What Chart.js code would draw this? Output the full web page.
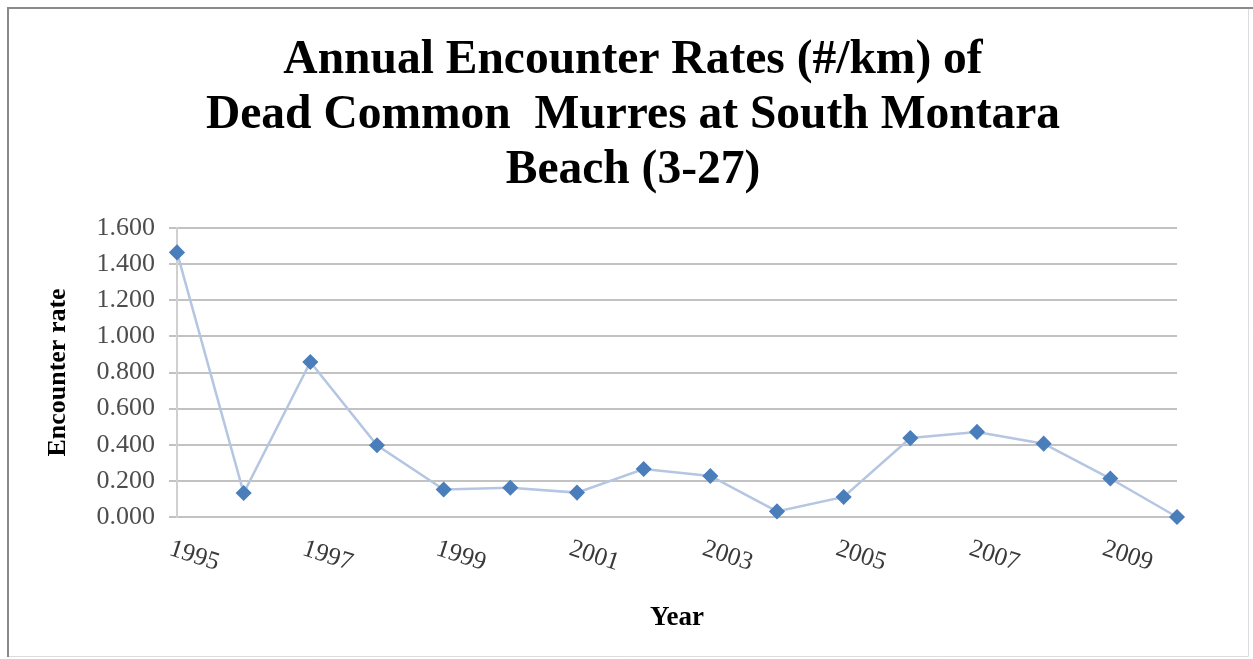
<!DOCTYPE html>
<html>
<head>
<meta charset="utf-8">
<script src="https://cdn.jsdelivr.net/npm/chart.js@4.4.0/dist/chart.umd.min.js"></script>
<style>
html,body{margin:0;padding:0;background:#fff;}
#wrap{position:relative;width:1253px;height:659px;}
canvas{display:block;}
</style>
</head>
<body>
<div id="wrap"><canvas id="c" width="1253" height="659"></canvas></div>
<script>
// ---- data ----
const titleLines = ['Annual Encounter Rates (#/km) of', 'Dead Common  Murres at South Montara', 'Beach (3-27)'];
const years = ['1995','1996','1997','1998','1999','2000','2001','2002','2003','2004','2005','2006','2007','2008','2009','2010'];
const encounterRates = [1.465, 0.133, 0.858, 0.397, 0.152, 0.162, 0.135, 0.266, 0.227, 0.031, 0.111, 0.437, 0.471, 0.406, 0.213, 0.000];
const xTickLabels = ['1995','1997','1999','2001','2003','2005','2007','2009'];
const yMin = 0, yMax = 1.6, yStep = 0.2;
const xTitle = 'Year';
const yTitle = 'Encounter rate';

const SERIF = "'Liberation Serif', 'Times New Roman', serif";

const framePlugin = {
  id: 'frame',
  beforeDraw(chart) {
    const ctx = chart.ctx;
    ctx.save();
    ctx.fillStyle = '#ffffff';
    ctx.fillRect(0, 0, chart.width, chart.height);
    ctx.restore();
  },
  afterDraw(chart) {
    const ctx = chart.ctx;
    ctx.save();
    // title (centred on the chart frame)
    ctx.fillStyle = '#000000';
    ctx.font = "bold 47.5px " + SERIF;
    ctx.textAlign = 'center';
    ctx.textBaseline = 'alphabetic';
    titleLines.forEach((t, i) => ctx.fillText(t, 633, 73 + i * 55));
    // light right/bottom edges
    ctx.strokeStyle = '#dcdcdc';
    ctx.lineWidth = 1;
    ctx.beginPath();
    ctx.moveTo(1248.5, 8); ctx.lineTo(1248.5, 656.5); ctx.lineTo(8, 656.5);
    ctx.stroke();
    // darker top/left edges
    ctx.strokeStyle = '#8a8a8a';
    ctx.lineWidth = 2;
    ctx.beginPath();
    ctx.moveTo(8, 657); ctx.lineTo(8, 8); ctx.lineTo(1253, 8);
    ctx.stroke();
    ctx.restore();
  }
};

const xLabelPlugin = {
  id: 'xLabels',
  afterDraw(chart) {
    const ctx = chart.ctx;
    const xs = chart.scales.x;
    const y0 = chart.chartArea.bottom;
    ctx.save();
    ctx.font = "25.5px " + SERIF;
    ctx.fillStyle = '#3a3a3a';
    ctx.textAlign = 'left';
    ctx.textBaseline = 'top';
    xTickLabels.forEach(lbl => {
      const idx = years.indexOf(lbl);
      const x = xs.getPixelForValue(idx);
      ctx.save();
      ctx.translate(x - 3, y0 + 19);
      ctx.rotate(18 * Math.PI / 180);
      ctx.fillText(lbl, 0, 0);
      ctx.restore();
    });
    ctx.restore();
  }
};

new Chart(document.getElementById('c'), {
  type: 'line',
  data: {
    labels: years,
    datasets: [{
      label: 'Encounter rate',
      data: encounterRates,
      borderColor: '#b4c6e2',
      borderWidth: 2.5,
      tension: 0,
      pointStyle: 'rectRot',
      pointRadius: 7,
      pointHoverRadius: 7,
      pointBackgroundColor: '#4a7ebb',
      pointBorderColor: '#4a7ebb',
      pointBorderWidth: 1.5,
      clip: false
    }]
  },
  options: {
    responsive: false,
    animation: false,
    devicePixelRatio: 1,
    layout: { padding: { left: 0, right: 76, top: 228, bottom: 0 } },
    plugins: {
      legend: { display: false },
      tooltip: { enabled: false },
      title: { display: false }
    },
    scales: {
      x: {
        type: 'category',
        offset: false,
        grid: { display: false, drawTicks: false },
        border: { display: false },
        ticks: { display: false },
        title: {
          display: true,
          text: xTitle,
          color: '#000000',
          font: { family: SERIF, size: 27, weight: 'bold', lineHeight: 1.2 },
          padding: { top: 0, bottom: 25 }
        },
        afterFit(scale) { scale.height = 142; }
      },
      y: {
        min: yMin,
        max: yMax,
        ticks: {
          stepSize: yStep,
          padding: 14,
          color: '#4d4d4d',
          font: { family: SERIF, size: 26 },
          callback: v => Number(v).toFixed(3)
        },
        grid: {
          color: '#c2c2c2',
          lineWidth: 2,
          drawTicks: true,
          tickLength: 8,
          tickColor: '#c2c2c2'
        },
        border: { display: true, color: '#d0d0d0', width: 2 },
        title: {
          display: true,
          text: yTitle,
          color: '#000000',
          font: { family: SERIF, size: 26, weight: 'bold', lineHeight: 1.2 },
          padding: { top: 43, bottom: 0 }
        },
        afterFit(scale) { scale.width = 177; }
      }
    }
  },
  plugins: [framePlugin, xLabelPlugin]
});
</script>
</body>
</html>
